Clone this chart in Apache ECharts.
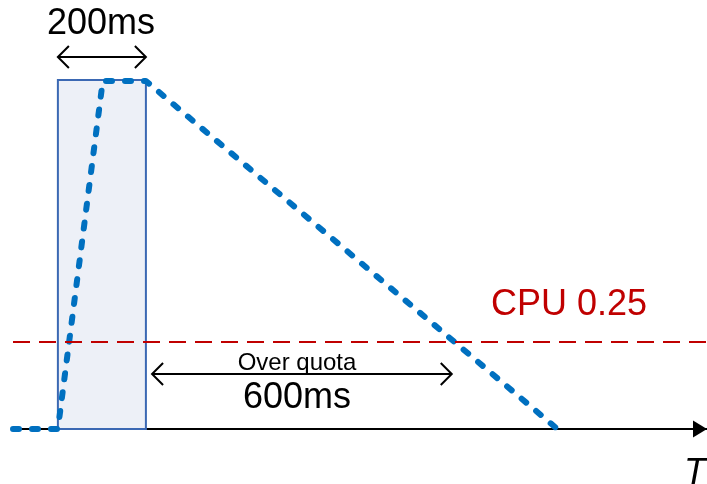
<!DOCTYPE html>
<html>
<head>
<meta charset="utf-8">
<script src="https://cdn.jsdelivr.net/npm/echarts@6/dist/echarts.min.js"></script>
<style>
html,body{margin:0;padding:0;background:#fff;}
#c{width:707px;height:484px;}
</style>
</head>
<body>
<div id="c"></div>
<script>
// time (ms) and CPU usage of the burst
var timeMs = [-102, 0, 102, 200, 1135];
var cpuUsage = [0, 0, 1.0, 1.0, 0];
// CPU quota
var cpuQuota = 0.25;
// the burst window (ms)
var burstWindow = [0, 200];
// over quota span (ms)
var overQuotaSpan = [214, 895];
// labels
var burstLabel = '200ms';
var overLabel = 'Over quota';
var overDurLabel = '600ms';
var quotaLabel = 'CPU 0.25';
var axisLabel = 'T';

var chart = echarts.init(document.getElementById('c'), null, {renderer: 'canvas'});
var lineData = timeMs.map(function (t, i) { return [t, cpuUsage[i]]; });

function arrowItem(params, api) {
  var a = api.coord([api.value(0), api.value(2)]);
  var b = api.coord([api.value(1), api.value(2)]);
  var s = {stroke: '#000', lineWidth: 2, fill: null};
  return {
    type: 'group',
    children: [
      {type: 'line', shape: {x1: a[0], y1: a[1], x2: b[0], y2: b[1]}, style: s},
      {type: 'polyline', shape: {points: [[a[0] + 11, a[1] - 11], [a[0], a[1]], [a[0] + 11, a[1] + 11]]}, style: s},
      {type: 'polyline', shape: {points: [[b[0] - 11, b[1] - 11], [b[0], b[1]], [b[0] - 11, b[1] + 11]]}, style: s}
    ]
  };
}

var font = '"Liberation Sans", Arial, sans-serif';

chart.setOption({
  animation: false,
  grid: {left: 13, right: 0, top: 81, bottom: 55},
  xAxis: {
    type: 'value', min: -102, max: 1475,
    axisLine: {show: true, onZero: false, lineStyle: {color: '#000', width: 2},
      symbol: ['none', 'triangle'], symbolSize: [17, 14], symbolOffset: [0, -7]},
    axisTick: {show: false}, axisLabel: {show: false}, splitLine: {show: false}
  },
  yAxis: {
    type: 'value', min: 0, max: 1,
    axisLine: {show: false}, axisTick: {show: false}, axisLabel: {show: false}, splitLine: {show: false}
  },
  series: [
    {
      type: 'custom', z: 1, clip: false,
      data: [[burstWindow[0], burstWindow[1], 1]],
      renderItem: function (params, api) {
        var p0 = api.coord([api.value(0), 0]);
        var p1 = api.coord([api.value(1), api.value(2)]);
        return {type: 'rect', shape: {x: p0[0], y: p1[1] - 1, width: p1[0] - p0[0], height: p0[1] - p1[1] + 1},
          style: {fill: '#edf0f7', stroke: '#3b68b3', lineWidth: 2}};
      }
    },
    {
      type: 'line', z: 3, clip: false, symbol: 'none',
      data: lineData,
      lineStyle: {color: '#0070c0', width: 6, type: [6, 13], cap: 'round', join: 'round'},
      markLine: {
        silent: true, symbol: 'none', label: {show: false},
        lineStyle: {color: '#c00000', width: 2, type: [17, 9]},
        data: [{yAxis: cpuQuota}]
      }
    },
    {
      type: 'custom', z: 2, clip: false,
      data: [[burstWindow[0], burstWindow[1], 1.069], [overQuotaSpan[0], overQuotaSpan[1], 0.158]],
      renderItem: arrowItem
    }
  ],
  graphic: [
    {type: 'text', style: {text: burstLabel, font: '36px ' + font, fill: '#000', textAlign: 'center', textVerticalAlign: 'middle', x: 101, y: 24}},
    {type: 'text', style: {text: overDurLabel, font: '36px ' + font, fill: '#000', textAlign: 'center', textVerticalAlign: 'middle', x: 297, y: 398}},
    {type: 'text', style: {text: overLabel, font: '24px ' + font, fill: '#000', textAlign: 'center', textVerticalAlign: 'middle', x: 297, y: 363}},
    {type: 'text', style: {text: quotaLabel, font: '36px ' + font, fill: '#c00000', textAlign: 'left', textVerticalAlign: 'middle', x: 491, y: 305}},
    {type: 'text', style: {text: axisLabel, font: 'italic 36px ' + font, fill: '#000', textAlign: 'left', textVerticalAlign: 'middle', x: 684, y: 474}}
  ]
});
</script>
</body>
</html>
